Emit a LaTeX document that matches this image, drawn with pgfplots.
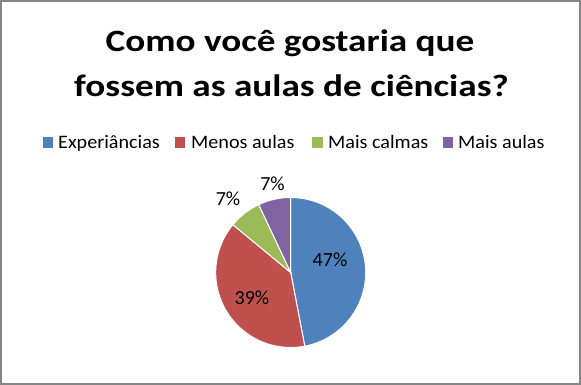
\documentclass[border=0pt]{standalone}
\usepackage{fontspec}
\setmainfont{Carlito}
\usepackage{graphicx}
\usepackage{pgfplots}
\usepackage{pgfplotstable}
\pgfplotsset{compat=1.18}
\definecolor{cblue}{HTML}{4F81BD}
\definecolor{cred}{HTML}{C0504D}
\definecolor{cgreen}{HTML}{9BBB59}
\definecolor{cpurple}{HTML}{8064A2}
\definecolor{cframe}{HTML}{868686}
\pgfplotstableread{
value
47
39
7
7
}\piedata
\pgfplotstablegetelem{0}{value}\of\piedata\let\va\pgfplotsretval
\pgfplotstablegetelem{1}{value}\of\piedata\let\vb\pgfplotsretval
\pgfplotstablegetelem{2}{value}\of\piedata\let\vc\pgfplotsretval
\pgfplotstablegetelem{3}{value}\of\piedata\let\vd\pgfplotsretval
\pgfmathsetmacro\aA{90-3.6*\va}
\pgfmathsetmacro\aB{\aA-3.6*\vb}
\pgfmathsetmacro\aC{\aB-3.6*\vc}
\pgfmathsetmacro\aD{\aC-3.6*\vd}
\def\cx{290.7}
\def\cy{112.5}
\def\rr{75}
\newcommand\ttlfont{\fontsize{31bp}{38bp}\selectfont\bfseries}
\newcommand\lgfont{\fontsize{19bp}{22bp}\selectfont}
\newcommand\lbfont{\fontsize{20bp}{24bp}\selectfont}
\newcommand\ttl[1]{\scalebox{1.2}[1]{#1}}
\newcommand\lgt[1]{\scalebox{1.06}[1]{#1}}
\begin{document}
\begin{tikzpicture}
\begin{axis}[
  scale only axis, width=581bp, height=385bp,
  xmin=0, xmax=581, ymin=0, ymax=385,
  hide axis, clip=false,
]
% pie sectors
\addplot[fill=cblue, draw=white, line width=1bp, domain=\aA:90, samples=80, variable=\t]
  ({\cx+\rr*cos(\t)},{\cy+\rr*sin(\t)}) -- (\cx,\cy) -- cycle;
\addplot[fill=cred, draw=white, line width=1bp, domain=\aB:\aA, samples=80, variable=\t]
  ({\cx+\rr*cos(\t)},{\cy+\rr*sin(\t)}) -- (\cx,\cy) -- cycle;
\addplot[fill=cgreen, draw=white, line width=1bp, domain=\aC:\aB, samples=20, variable=\t]
  ({\cx+\rr*cos(\t)},{\cy+\rr*sin(\t)}) -- (\cx,\cy) -- cycle;
\addplot[fill=cpurple, draw=white, line width=1bp, domain=\aD:\aC, samples=20, variable=\t]
  ({\cx+\rr*cos(\t)},{\cy+\rr*sin(\t)}) -- (\cx,\cy) -- cycle;
% data labels
\node[font=\lbfont, inner sep=0pt] at (330,125) {\va\%};
\node[font=\lbfont, inner sep=0pt] at (252,87) {\vb\%};
\node[font=\lbfont, inner sep=0pt] at (228,186) {\vc\%};
\node[font=\lbfont, inner sep=0pt] at (272.5,201) {\vd\%};
% title
\node[font=\ttlfont, anchor=base, inner sep=0pt] at (290,333.3) {\ttl{Como você gostaria que}};
\node[font=\ttlfont, anchor=base, inner sep=0pt] at (291.5,288.5) {\ttl{fossem as aulas de ciências?}};
% legend
\fill[cblue] (42.7,237.3) rectangle (52.7,247.7);
\node[font=\lgfont, anchor=base west, inner sep=0pt] at (58,236) {\lgt{Experiâncias}};
\fill[cred] (174.5,237.3) rectangle (185,247.7);
\node[font=\lgfont, anchor=base west, inner sep=0pt] at (191,236) {\lgt{Menos aulas}};
\fill[cgreen] (312.3,237.3) rectangle (322.7,247.7);
\node[font=\lgfont, anchor=base west, inner sep=0pt] at (328,236) {\lgt{Mais calmas}};
\fill[cpurple] (442.7,237.3) rectangle (453.3,247.7);
\node[font=\lgfont, anchor=base west, inner sep=0pt] at (458,236) {\lgt{Mais aulas}};
% frame
\draw[cframe, line width=2.4bp] (1.2,1.2) rectangle (579.8,383.8);
\end{axis}
\pgfresetboundingbox
\path (0,0) rectangle (581bp,385bp);
\end{tikzpicture}
\end{document}
